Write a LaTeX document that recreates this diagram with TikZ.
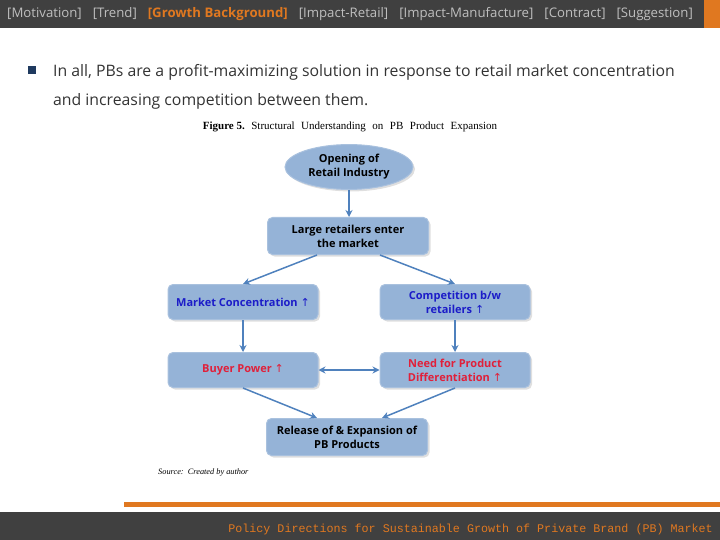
\documentclass[tikz,border=0pt]{standalone}
\usepackage{fontspec}
\setmainfont{Open Sans}
\newfontfamily\hdrfont{Open Sans}
\newfontfamily\nodefont{Open Sans}
\newfontfamily\capfont{Liberation Serif}
\newfontfamily\footfont{Liberation Mono}
\newfontfamily\symfont{DejaVu Sans}
\usetikzlibrary{shapes.geometric,shadows,arrows.meta}
\definecolor{bar}{HTML}{404040}
\definecolor{orng}{HTML}{E07820}
\definecolor{hdrgray}{HTML}{BFBFBF}
\definecolor{boxfill}{HTML}{95B3D7}
\definecolor{boxedge}{HTML}{A9C1DE}
\definecolor{arr}{HTML}{4F81BD}
\definecolor{bluetxt}{HTML}{1C1CC8}
\definecolor{redtxt}{HTML}{E0203A}
\definecolor{bodytxt}{HTML}{333333}
\definecolor{bullet}{HTML}{1F3A5F}
\newcommand{\upar}{{\symfont\mdseries\char"2191}}
\newcommand{\hgap}{\hspace{11pt}}
\newcommand{\cgap}{\hspace{6.5pt}}
\tikzset{
  fbox/.style={rectangle, rounded corners=5pt, fill=boxfill, draw=boxedge, line width=1pt,
    minimum width=150pt, minimum height=35pt, align=center,
    font=\nodefont\bfseries\fontsize{11}{14}\selectfont,
    drop shadow={shadow xshift=2pt, shadow yshift=-2pt, opacity=0.25}},
  wbox/.style={fbox, minimum width=161pt, minimum height=37pt},
  conn/.style={-{Stealth[length=7pt,width=7pt]}, draw=arr, line width=1.5pt}
}
\begin{document}
\begin{tikzpicture}[x=1pt,y=-1pt]
\useasboundingbox (0,0) rectangle (720,540);
% header
\fill[bar] (0,0) rectangle (704,28);
\fill[orng] (704,0) rectangle (720,28);
\node[anchor=base west, inner sep=0, text=hdrgray, font=\hdrfont\fontsize{13.2}{15}\selectfont] (hdr) at (7,18)
  {[Motivation]\hgap[Trend]\hgap\textcolor{orng}{\bfseries [Growth Background]}\hgap[Impact-Retail]\hgap[Impact-Manufacture]\hgap[Contract]\hgap[Suggestion]};
% bullet and text
\fill[bullet] (28,66) rectangle (36,74) coordinate (bul);
\node[anchor=base west, inner sep=0, text=bodytxt, font=\fontsize{15.8}{18}\selectfont] (l1) at (53,77)
  {In all, PBs are a profit-maximizing solution in response to retail market concentration};
\node[anchor=base west, inner sep=0, text=bodytxt, font=\fontsize{15.8}{18}\selectfont] (l2) at (53,106)
  {and increasing competition between them.};
% caption
\node[inner sep=0, font=\capfont\fontsize{11}{12}\selectfont] (cap) at (350,127)
  {\textbf{Figure 5.}\cgap Structural\cgap Understanding\cgap on\cgap PB\cgap Product\cgap Expansion};
% nodes
\node[ellipse, fill=boxfill, draw=boxedge, line width=1pt, minimum width=128pt, minimum height=38pt,
  align=center, font=\nodefont\bfseries\fontsize{11}{14}\selectfont,
  drop shadow={shadow xshift=2pt, shadow yshift=-2pt, opacity=0.25}] (open) at (349,167)
  {Opening of\\Retail Industry};
\node[wbox] (large) at (348,236) {Large retailers enter\\the market};
\node[fbox, text=bluetxt] (mc) at (243,302) {Market Concentration \upar};
\node[fbox, text=bluetxt] (comp) at (455,302) {Competition b/w\\retailers \upar};
\node[fbox, text=redtxt] (buyer) at (243,370) {Buyer Power \upar};
\node[fbox, text=redtxt] (need) at (455,370) {Need for Product\\Differentiation \upar};
\node[wbox] (rel) at (347,437) {Release of \& Expansion of\\PB Products};
\node[anchor=base west, inner sep=0, font=\capfont\itshape\fontsize{8.3}{9}\selectfont] (src) at (158,474)
  {Source:\ \ Created by author};
% connectors
\draw[conn] (open.south) -- (open.south |- large.north);
\draw[conn] ([xshift=-31pt]large.south) -- (mc.north);
\draw[conn] ([xshift=32pt]large.south) -- (comp.north);
\draw[conn] (mc) -- (buyer);
\draw[conn] (comp) -- (need);
\draw[conn, {Stealth[length=7pt,width=7pt]}-{Stealth[length=7pt,width=7pt]}] (buyer) -- (need);
\draw[conn] (buyer.south) -- ([xshift=-30pt]rel.north);
\draw[conn] (need.south) -- ([xshift=35pt]rel.north);
% footer
\fill[orng] (124,502) rectangle (720,507);
\fill[bar] (0,512) rectangle (720,540);
\node[anchor=base east, inner sep=0, text=orng, font=\footfont\fontsize{11.7}{14}\selectfont] (foot) at (713,532)
  {Policy Directions for Sustainable Growth of Private Brand (PB) Market};
\end{tikzpicture}
\end{document}
